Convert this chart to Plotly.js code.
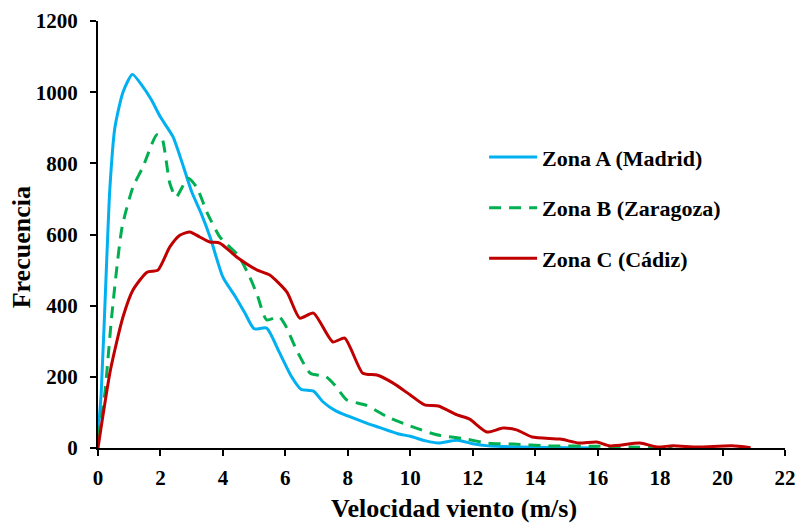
<!DOCTYPE html>
<html>
<head>
<meta charset="utf-8">
<script src="https://cdn.plot.ly/plotly-3.0.1.min.js"></script>
<style>html,body{margin:0;padding:0;background:#fff;}#chart{width:795px;height:525px;}</style>
</head>
<body>
<div id="chart"></div>
<script>
// Zona A (Madrid)
var xA = [0, 0.1, 0.28, 0.38, 0.54, 0.8, 1.1, 1.4, 1.7, 2.0, 2.4, 2.7, 3.0, 3.3, 3.6, 4.0, 4.4, 4.7, 5.0, 5.4, 5.8, 6.2, 6.5, 6.9, 7.2, 7.6, 8.0, 8.6, 9.0, 9.6, 10.0, 10.5, 10.9, 11.5, 12.0, 12.5, 13, 14, 15, 16];
var yA = [40, 150, 530, 730, 900, 1000, 1050, 1020, 980, 930, 875, 800, 720, 660, 590, 480, 425, 380, 335, 337, 270, 200, 165, 160, 130, 105, 90, 70, 58, 40, 33, 20, 14, 22, 12, 6, 4, 2, 1, 0];
// Zona B (Zaragoza)
var xB = [0, 0.1, 0.22, 0.45, 0.77, 1.12, 1.44, 1.88, 2.04, 2.3, 2.5, 2.88, 3.16, 3.5, 3.9, 4.1, 4.5, 4.86, 5.1, 5.4, 5.8, 6.0, 6.36, 6.8, 7.3, 7.6, 7.97, 8.6, 9.25, 9.9, 10.85, 11.8, 12.45, 13.3, 14.4, 16, 17, 18.4];
var yB = [30, 80, 154, 380, 620, 733, 790, 880, 873, 744, 705, 758, 733, 660, 593, 575, 540, 480, 430, 360, 369, 345, 275, 210, 200, 175, 135, 120, 88, 65, 37, 25, 14, 11, 6, 5, 3, 0];
// Zona C (Cádiz)
var xC = [0, 0.4, 0.8, 1.12, 1.57, 1.92, 2.3, 2.62, 2.94, 3.26, 3.58, 3.9, 4.44, 5.1, 5.5, 6.05, 6.46, 6.9, 7.52, 7.9, 8.48, 8.93, 9.44, 10, 10.46, 10.9, 11.5, 11.9, 12.45, 12.97, 13.4, 13.9, 14.8, 15.4, 15.97, 16.4, 17.35, 17.9, 18.4, 19.2, 20.3, 20.9];
var yC = [0, 220, 368, 444, 494, 500, 565, 598, 607, 593, 579, 576, 537, 500, 486, 438, 365, 379, 298, 309, 210, 205, 183, 149, 121, 118, 93, 81, 45, 56, 51, 31, 25, 14, 17, 6, 14, 3, 6, 3, 6, 1];

var names = ['Zona A (Madrid)', 'Zona B (Zaragoza)', 'Zona C (Cádiz)'];
var xTicks = [0, 2, 4, 6, 8, 10, 12, 14, 16, 18, 20, 22];
var yTicks = [0, 200, 400, 600, 800, 1000, 1200];
var xTitle = 'Velocidad viento (m/s)';
var yTitle = 'Frecuencia';

var F = 'Liberation Serif';
function tr(x, y, name, color, dash, g) {
  return {x: x, y: y, name: name, type: 'scatter', mode: 'lines', legendgroup: g,
    line: {color: color, width: 3, dash: dash, shape: 'spline', smoothing: 0.6}};
}
var data = [
  tr(xA, yA, names[0], '#00B0F0', 'solid', 'a'),
  tr(xB, yB, names[1], '#00B050', '12px,8px', 'b'),
  tr(xC, yC, names[2], '#C00000', 'solid', 'c')
];
var layout = {
  width: 795, height: 525,
  margin: {l: 98, r: 10, t: 21, b: 77},
  paper_bgcolor: '#fff', plot_bgcolor: '#fff',
  font: {family: F, size: 21, color: '#000', weight: 700},
  showlegend: true,
  legend: {x: 0.562, y: 0.73, xanchor: 'left', yanchor: 'top', traceorder: 'grouped', tracegroupgap: 19,
    itemwidth: 48, font: {family: F, size: 22, color: '#000', weight: 700}, bgcolor: 'rgba(0,0,0,0)'},
  xaxis: {range: [0, 22], tickvals: xTicks, ticktext: xTicks.map(String), showgrid: false, zeroline: false,
    showline: true, linecolor: '#000', linewidth: 2, ticks: 'outside', ticklen: 6, tickwidth: 2, tickcolor: '#000',
    ticklabelstandoff: 4, ticklabeloverflow: 'allow', tickfont: {family: F, size: 21, weight: 700}},
  yaxis: {range: [0, 1200], tickvals: yTicks, ticktext: yTicks.map(String), showgrid: false, zeroline: false,
    showline: true, linecolor: '#000', linewidth: 2, ticks: 'outside', ticklen: 6, tickwidth: 2, tickcolor: '#000',
    ticklabelstandoff: 8, tickfont: {family: F, size: 21, weight: 700}},
  annotations: [
    {text: xTitle, xref: 'paper', yref: 'paper', x: 0.518, y: -0.178, xanchor: 'center', yanchor: 'bottom',
      borderpad: 0, showarrow: false, font: {family: F, size: 26, weight: 700, color: '#000'}},
    {text: yTitle, xref: 'paper', yref: 'paper', x: -0.112, y: 0.47, xanchor: 'center', yanchor: 'middle',
      textangle: -90, showarrow: false, font: {family: F, size: 26, weight: 700, color: '#000'}}
  ]
};
Plotly.newPlot('chart', data, layout, {displayModeBar: false, staticPlot: true});
</script>
</body>
</html>
